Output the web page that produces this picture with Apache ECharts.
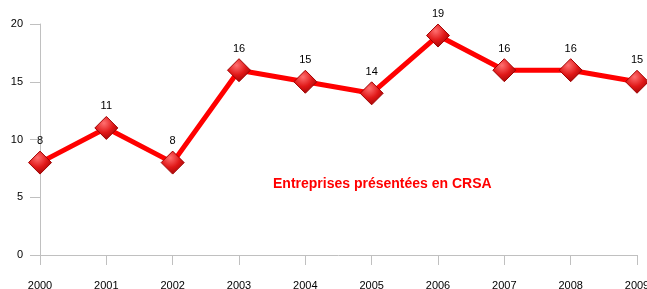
<!DOCTYPE html>
<html><head><meta charset="utf-8">
<script src="https://cdn.jsdelivr.net/npm/echarts@6/dist/echarts.min.js"></script>
<style>html,body{margin:0;padding:0;background:#fff}#c{width:647px;height:289px}</style>
</head><body><div id="c"></div>
<script>
const years = ['2000','2001','2002','2003','2004','2005','2006','2007','2008','2009'];
const values = [8, 11, 8, 16, 15, 14, 19, 16, 16, 15];
const seriesName = 'Entreprises présentées en CRSA';

const chart = echarts.init(document.getElementById('c'));
chart.setOption({
  animation: false,
  grid: {left: 40, right: 10, top: 24, bottom: 34, containLabel: false, outerBoundsMode: 'none'},
  xAxis: {
    type: 'category', data: years, boundaryGap: false,
    axisLine: {lineStyle: {color: '#c0c0c0', width: 1}},
    axisTick: {show: true, length: 10, lineStyle: {color: '#c0c0c0'}},
    axisLabel: {color: '#000', fontFamily: 'Liberation Sans, Arial', fontSize: 11, margin: 25}
  },
  yAxis: {
    type: 'value', min: 0, max: 20, interval: 5,
    axisLine: {show: true, lineStyle: {color: '#c0c0c0'}},
    axisTick: {show: true, length: 10, lineStyle: {color: '#c0c0c0'}},
    splitLine: {show: false},
    axisLabel: {color: '#000', fontFamily: 'Liberation Sans, Arial', fontSize: 11, margin: 17}
  },
  series: [{
    name: seriesName, type: 'line', data: values,
    lineStyle: {color: '#ff0000', width: 5},
    symbol: 'diamond', symbolSize: 23,
    itemStyle: {
      color: {type: 'radial', x: 0.4, y: 0.3, r: 0.8, colorStops: [
        {offset: 0, color: '#ff7070'}, {offset: 0.5, color: '#e01818'}, {offset: 1, color: '#900000'}]},
      borderColor: '#a00000', borderWidth: 1
    },
    label: {show: true, position: 'top', distance: 4, color: '#000',
      fontFamily: 'Liberation Sans, Arial', fontSize: 11}
  }],
  graphic: [{
    type: 'text', left: 273, top: 177,
    style: {text: seriesName, fill: '#ff0000', font: 'bold 14px Liberation Sans, Arial'}
  }]
});
</script></body></html>
